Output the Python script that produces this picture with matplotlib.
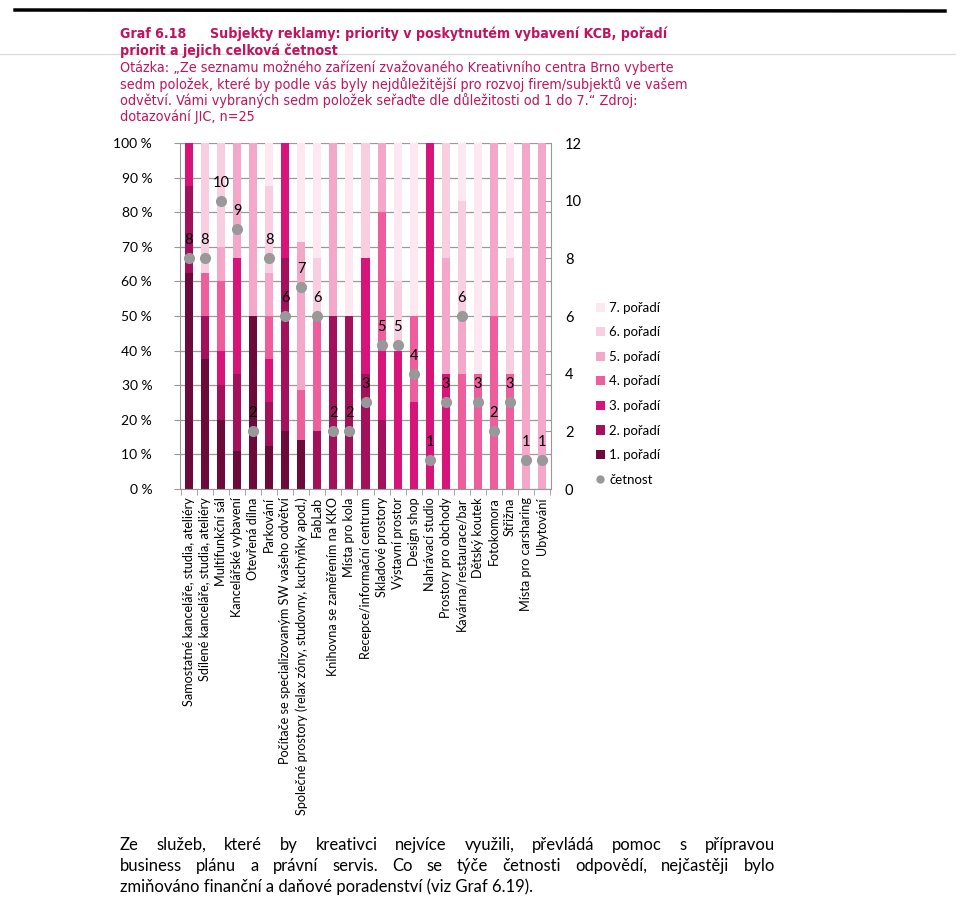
import matplotlib
matplotlib.use('Agg')
import matplotlib.pyplot as plt
import numpy as np
from matplotlib import font_manager
from matplotlib.font_manager import FontProperties
from matplotlib.lines import Line2D
from matplotlib.patches import Patch

categories = [
    'Samostatné kanceláře, studia, ateliéry',
    'Sdílené kanceláře, studia, ateliéry',
    'Multifunkční sál',
    'Kancelářské vybavení',
    'Otevřená dílna',
    'Parkování',
    'Počítače se specializovaným SW vašeho odvětví',
    'Společné prostory (relax zóny, studovny, kuchyňky apod.)',
    'FabLab',
    'Knihovna se zaměřením na KKO',
    'Místa pro kola',
    'Recepce/informační centrum',
    'Skladové prostory',
    'Výstavní prostor',
    'Design shop',
    'Nahrávací studio',
    'Prostory pro obchody',
    'Kavárna/restaurace/bar',
    'Dětský koutek',
    'Fotokomora',
    'Střižna',
    'Místa pro carsharing',
    'Ubytování',
]

# number of answers per rank (1. pořadí ... 7. pořadí)
rank1 = [5, 3, 2, 1, 1, 1, 1, 1, 0, 0, 0, 0, 0, 0, 0, 0, 0, 0, 0, 0, 0, 0, 0]
rank2 = [2, 1, 1, 2, 0, 1, 3, 0, 1, 1, 1, 1, 1, 0, 0, 0, 0, 0, 0, 0, 0, 0, 0]
rank3 = [1, 0, 1, 3, 0, 1, 2, 0, 0, 0, 0, 1, 1, 2, 1, 1, 1, 0, 0, 0, 0, 0, 0]
rank4 = [0, 1, 2, 0, 0, 1, 0, 1, 2, 0, 0, 0, 2, 0, 1, 0, 0, 2, 1, 1, 1, 0, 0]
rank5 = [0, 0, 1, 3, 1, 1, 0, 3, 0, 1, 0, 0, 1, 0, 0, 0, 1, 1, 0, 1, 0, 1, 1]
rank6 = [0, 3, 3, 0, 0, 2, 0, 0, 1, 0, 0, 1, 0, 1, 0, 0, 1, 2, 0, 0, 1, 0, 0]
rank7 = [0, 0, 0, 0, 0, 1, 0, 2, 2, 0, 1, 0, 0, 2, 2, 0, 0, 1, 2, 0, 1, 0, 0]
ranks = [rank1, rank2, rank3, rank4, rank5, rank6, rank7]
rank_labels = ['1. pořadí', '2. pořadí', '3. pořadí', '4. pořadí',
               '5. pořadí', '6. pořadí', '7. pořadí']
colors = ['#6B0A3B', '#A3105B', '#D8147A', '#EE5E9D', '#F5A7C9', '#F9CEE1', '#FDE8F1']

cetnost = np.sum(ranks, axis=0)

TITLE_COL = '#C0145E'
BODY = ['Lato', 'DejaVu Sans']
plt.rcParams['font.family'] = BODY


def pick_narrow(bold):
    # look for an installed narrow/condensed sans, else plain Liberation Sans
    cands = []
    for f in font_manager.fontManager.ttflist:
        path = f.fname.lower()
        if 'mono' in path or 'serif' in path or 'oblique' in path or 'italic' in path:
            continue
        is_bold = f.weight in ('bold', 700) or 'bold' in path
        if is_bold != bold:
            continue
        if 'narrow' in path or 'condensed' in path:
            score = 0 if 'liberation' in path else 1
            cands.append((score, f.fname))
    if cands:
        return FontProperties(fname=sorted(cands)[0][1])
    return FontProperties(family='Liberation Sans', weight='bold' if bold else 'normal')


fp_bold = pick_narrow(True)
fp_reg = pick_narrow(False)

fig = plt.figure(figsize=(9.6, 8.97), dpi=100)
renderer = fig.canvas.get_renderer()


def fy(y):
    return 1 - y / 897


def fit_size(text, fp, target):
    t = fig.text(0, 0, text, fontproperties=fp, fontsize=11.5)
    w = t.get_window_extent(renderer).width
    t.remove()
    return min(11.5 * target / w, 12)


# header
fig.add_artist(Line2D([15 / 960, 945 / 960], [fy(10), fy(11)], color='black', lw=2.5))
fig.add_artist(Line2D([0, 955 / 960], [fy(54), fy(54)], color='#dddddd', lw=1))

sz_b = fit_size('Subjekty reklamy: priority v poskytnutém vybavení KCB, pořadí', fp_bold, 461)
sz_r = fit_size('Otázka: „Ze seznamu možného zařízení zvažovaného Kreativního centra Brno vyberte', fp_reg, 553)

fig.text(120 / 960, fy(34), 'Graf 6.18', color=TITLE_COL, fontproperties=fp_bold, fontsize=sz_b, va='center')
fig.text(210 / 960, fy(34), 'Subjekty reklamy: priority v poskytnutém vybavení KCB, pořadí',
         color=TITLE_COL, fontproperties=fp_bold, fontsize=sz_b, va='center')
fig.text(120 / 960, fy(51), 'priorit a jejich celková četnost', color=TITLE_COL,
         fontproperties=fp_bold, fontsize=sz_b, va='center')
q_lines = [
    'Otázka: „Ze seznamu možného zařízení zvažovaného Kreativního centra Brno vyberte',
    'sedm položek, které by podle vás byly nejdůležitější pro rozvoj firem/subjektů ve vašem',
    'odvětví. Vámi vybraných sedm položek seřaďte dle důležitosti od 1 do 7.“ Zdroj:',
    'dotazování JIC, n=25',
]
for i, line in enumerate(q_lines):
    fig.text(120 / 960, fy(68 + i * 16.3), line, color=TITLE_COL, fontproperties=fp_reg,
             fontsize=sz_r, va='center')

# chart
ax = fig.add_axes([180 / 960, 1 - 489 / 897, 371 / 960, 346 / 897])
x = np.arange(len(categories))
bottom = np.zeros(len(categories))
for r, c in zip(ranks, colors):
    share = np.array(r) / cetnost * 100
    ax.bar(x, share, 0.5, bottom=bottom, color=c, zorder=2)
    bottom += share

ax.set_xlim(-0.55, len(categories) - 0.45)
ax.set_ylim(0, 100)
ax.set_yticks(np.arange(0, 101, 10))
ax.set_yticklabels([f'{v} %' for v in range(0, 101, 10)], fontsize=10)
ax.grid(axis='y', color='#999999', lw=0.9, zorder=0)
ax.set_xticks(x)
ax.set_xticklabels(categories, rotation=90, fontsize=9.1)
ax.set_xticks(np.arange(-0.5, len(categories), 1), minor=True)
ax.tick_params(axis='x', which='major', length=0, pad=6)
ax.tick_params(axis='x', which='minor', length=4, color='#999999')
ax.tick_params(axis='y', length=4, color='#999999', pad=16)
ax.spines['top'].set_visible(False)
for s in ['left', 'bottom', 'right']:
    ax.spines[s].set_color('#999999')

ax2 = ax.twinx()
ax2.set_ylim(0, 12)
ax2.set_yticks(np.arange(0, 13, 2))
ax2.tick_params(axis='y', direction='in', length=4, color='#999999', labelsize=10.5, pad=10)
for s in ax2.spines.values():
    s.set_visible(False)
ax2.plot(x, cetnost, 'o', color='#999999', markersize=7, zorder=4)
for xi, v in zip(x, cetnost):
    ax2.annotate(str(v), (xi, v), xytext=(0, 8), textcoords='offset points',
                 ha='center', va='bottom', fontsize=10.5)

handles = [Patch(facecolor=c, edgecolor='none') for c in colors[::-1]]
labels = rank_labels[::-1]
handles.append(Line2D([], [], marker='o', color='#999999', ls='none', markersize=5))
labels.append('četnost')
fig.legend(handles, labels, loc='upper left', bbox_to_anchor=(584 / 960, fy(290)), frameon=False,
           fontsize=9.5, handlelength=0.7, handleheight=0.7, handletextpad=0.3, labelspacing=0.95)

# bottom paragraph, justified
para = [
    ('Ze služeb, které by kreativci nejvíce využili, převládá pomoc s přípravou', True),
    ('business plánu a právní servis. Co se týče četnosti odpovědí, nejčastěji bylo', True),
    ('zmiňováno finanční a daňové poradenství (viz Graf 6.19).', False),
]
x0, x1 = 120, 775
for i, (line, justify) in enumerate(para):
    y = fy(845 + i * 21)
    words = line.split(' ')
    if not justify:
        fig.text(x0 / 960, y, line, fontsize=12, va='center')
        continue
    arts = [fig.text(0, y, w, fontsize=12, va='center') for w in words]
    widths = [a.get_window_extent(renderer).width for a in arts]
    gap = (x1 - x0 - sum(widths)) / (len(words) - 1)
    pos = x0
    for a, w in zip(arts, widths):
        a.set_x(pos / 960)
        pos += w + gap

fig.savefig('out.png', dpi=100)
